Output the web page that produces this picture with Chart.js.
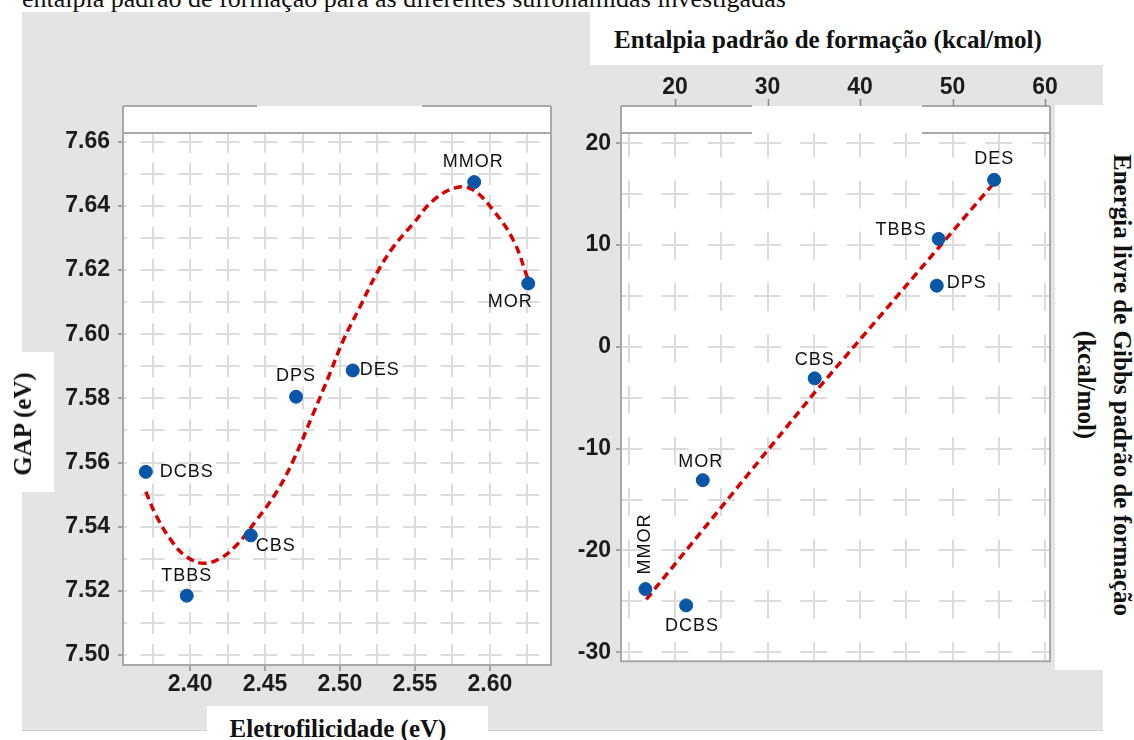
<!DOCTYPE html>
<html>
<head>
<meta charset="utf-8">
<script src="https://cdn.jsdelivr.net/npm/chart.js@4.4.1/dist/chart.umd.min.js"></script>
<style>
  html, body { margin: 0; padding: 0; background: #fff; }
  body { width: 1134px; height: 740px; position: relative; overflow: hidden; }
  .box { position: absolute; }
  .gray { background: #e4e4e4; }
  .white { background: #fff; }
  .serif { font-family: 'Liberation Serif', 'Times New Roman', serif; color: #111; white-space: nowrap; }
  .title { font-weight: bold; font-size: 25px; }
  .rot { position: absolute; transform: translate(-50%, -50%) rotate(90deg); }
  .rotl { position: absolute; transform: translate(-50%, -50%) rotate(-90deg); }
  .center { position: absolute; transform: translate(-50%, -50%); }
  canvas { position: absolute; }
</style>
</head>
<body>
<div class="box gray" style="left:22px;top:12px;width:1081px;height:718px;border-bottom:1px solid #d2d2d2;"></div>
<div class="box white" style="left:590px;top:0;width:544px;height:65px;"></div>
<div class="box white" style="left:1055px;top:105px;width:79px;height:565px;"></div>
<div class="box white" style="left:0;top:352px;width:54px;height:140px;"></div>
<div class="box white" style="left:207px;top:706px;width:281px;height:34px;"></div>

<div class="serif" style="position:absolute;left:22px;top:-14px;font-size:26px;line-height:26px;">entalpia padrão de formação para as diferentes sulfonamidas investigadas</div>

<canvas id="gapChart" width="540" height="616" style="left:24px;top:90px;"></canvas>
<canvas id="gibbsChart" width="500" height="620" style="left:566px;top:60px;"></canvas>

<div class="serif title center" style="left:828px;top:40px;">Entalpia padrão de formação (kcal/mol)</div>
<div class="serif title rot" style="left:1122px;top:385px;">Energia livre de Gibbs padrão de formação</div>
<div class="serif title rot" style="left:1086px;top:385px;">(kcal/mol)</div>
<div class="serif title rotl" style="left:23px;top:424px;">GAP (eV)</div>
<div class="serif title center" style="left:338px;top:729px;">Eletrofilicidade (eV)</div>

<script>
// painel esquerdo: GAP x eletrofilicidade
const gapNames = ['DCBS', 'TBBS', 'CBS', 'DPS', 'DES', 'MMOR', 'MOR'];
const eletrofilicidade = [2.3705, 2.3978, 2.4405, 2.4707, 2.5085, 2.5895, 2.6255];
const gapValues = [7.5571, 7.5185, 7.5373, 7.5805, 7.5887, 7.6474, 7.6158];
// curva ajustada
const gapFitX = [2.3705, 2.3778, 2.3889, 2.3978, 2.4089, 2.4200, 2.4311, 2.4444, 2.4578, 2.4689,
  2.4822, 2.4933, 2.5022, 2.5133, 2.5244, 2.5356, 2.5489, 2.5622, 2.5778, 2.5889, 2.6022, 2.6156, 2.6255];
const gapFitY = [7.5509, 7.5431, 7.5348, 7.5306, 7.5286, 7.5301, 7.5343, 7.5421, 7.5509, 7.5607,
  7.5753, 7.5878, 7.5981, 7.6085, 7.6189, 7.6272, 7.6345, 7.6417, 7.6457, 7.6449, 7.6386, 7.6293, 7.6170];

// painel direito: energia livre de Gibbs x entalpia
const gibbsNames = ['DES', 'TBBS', 'DPS', 'CBS', 'MOR', 'MMOR', 'DCBS'];
const entalpia = [54.5, 48.5, 48.3, 35.1, 23.0, 16.8, 21.2];
const gibbs = [16.4, 10.6, 6.0, -3.1, -13.1, -23.8, -25.4];
const gibbsFitX = [16.9, 35.0, 54.3];
const gibbsFitY = [-24.8, -4.6, 15.9];

// rotulos de eixo
const gapXTicks = [2.40, 2.45, 2.50, 2.55, 2.60];
const gapYTicks = [7.50, 7.52, 7.54, 7.56, 7.58, 7.60, 7.62, 7.64, 7.66];
const gibbsXTicks = [20, 30, 40, 50, 60];
const gibbsYTicks = [-30, -20, -10, 0, 10, 20];

const toXY = (xs, ys) => xs.map((x, i) => ({ x: x, y: ys[i] }));
const inList = (v, list) => list.some(t => Math.abs(t - v) < 1e-6);

const tickFont = { family: "'Liberation Sans', Arial, sans-serif", size: 23, weight: 'bold' };
const tickText = '#1c1c1c';
const gridColor = '#dcdcdc';
const tickMark = '#8c8c8c';
const frameColor = '#a8a8a8';
const dotColor = '#0a56a6';
const fitColor = '#d60000';
const clear = 'rgba(0,0,0,0)';

const framePlugin = {
  id: 'frame',
  beforeDraw(chart, args, o) {
    const { ctx, chartArea: a } = chart;
    ctx.save();
    ctx.fillStyle = '#fff';
    ctx.fillRect(a.left, a.top - o.strip, a.right - a.left, a.bottom - a.top + o.strip);
    ctx.restore();
  },
  afterDraw(chart, args, o) {
    const { ctx, chartArea: a } = chart;
    const top = a.top - o.strip;
    ctx.save();
    ctx.strokeStyle = frameColor;
    ctx.lineWidth = 2;
    ctx.beginPath();
    ctx.moveTo(a.left, top); ctx.lineTo(a.left, a.bottom);
    ctx.lineTo(a.right, a.bottom); ctx.lineTo(a.right, top);
    ctx.moveTo(a.left, top); ctx.lineTo(a.left + o.gap[0], top);
    ctx.moveTo(a.left + o.gap[1], top); ctx.lineTo(a.right, top);
    if (o.innerGap) {
      ctx.moveTo(a.left, a.top); ctx.lineTo(a.left + o.gap[0], a.top);
      ctx.moveTo(a.left + o.gap[1], a.top); ctx.lineTo(a.right, a.top);
    } else {
      ctx.moveTo(a.left, a.top); ctx.lineTo(a.right, a.top);
    }
    ctx.stroke();
    if (o.topTicks) {
      const sx = chart.scales.x;
      ctx.strokeStyle = tickMark;
      ctx.lineWidth = 1.5;
      ctx.beginPath();
      o.topTicks.forEach(v => {
        const px = Math.round(sx.getPixelForValue(v)) + 0.5;
        ctx.moveTo(px, top - 7); ctx.lineTo(px, top);
      });
      ctx.stroke();
    }
    ctx.restore();
  }
};

const labelPlugin = {
  id: 'pointNames',
  afterDatasetsDraw(chart, args, o) {
    const ctx = chart.ctx;
    const meta = chart.getDatasetMeta(0);
    ctx.save();
    ctx.font = "18px 'Liberation Sans', Arial, sans-serif";
    if ('letterSpacing' in ctx) ctx.letterSpacing = '1px';
    ctx.fillStyle = '#101018';
    ctx.textBaseline = 'middle';
    meta.data.forEach((pt, i) => {
      const p = o.place[i];
      ctx.save();
      ctx.translate(pt.x + p[0], pt.y + p[1]);
      if (p[3]) ctx.rotate(p[3] * Math.PI / 180);
      ctx.textAlign = p[2];
      ctx.fillText(o.names[i], 0, 0);
      ctx.restore();
    });
    ctx.restore();
  }
};

function axis(extra) {
  return Object.assign({ type: 'linear' }, extra);
}

new Chart(document.getElementById('gapChart'), {
  type: 'scatter',
  data: {
    datasets: [{
      data: toXY(eletrofilicidade, gapValues),
      backgroundColor: dotColor,
      borderColor: dotColor,
      pointRadius: 6.5,
      order: 0
    }, {
      data: toXY(gapFitX, gapFitY),
      showLine: true,
      borderColor: fitColor,
      borderWidth: 3.5,
      borderDash: [8, 5],
      tension: 0.4,
      pointRadius: 0,
      order: 1
    }]
  },
  options: {
    responsive: false,
    animation: false,
    events: [],
    layout: { padding: { top: 43, right: 13, left: 0, bottom: 0 } },
    scales: {
      x: axis({
        min: 2.3553, max: 2.6407,
        afterFit: s => { s.height = 41; },
        ticks: {
          stepSize: 0.025, includeBounds: false, autoSkip: false, maxRotation: 0, minRotation: 0,
          padding: 0, font: tickFont, color: tickText,
          callback: v => inList(v, gapXTicks) ? v.toFixed(2) : ''
        },
        grid: {
          color: gridColor, lineWidth: 2, tickLength: 6, tickWidth: 1.5, tickBorderDash: [],
          tickColor: c => inList(c.tick.value, gapXTicks) ? tickMark : clear
        },
        border: { display: false, dash: [22, 10.08], dashOffset: 2.3 }
      }),
      y: axis({
        min: 7.4969, max: 7.6627,
        afterFit: s => { s.width = 99; },
        ticks: {
          stepSize: 0.01, includeBounds: false, autoSkip: false,
          padding: 8, font: tickFont, color: tickText,
          callback: v => inList(v, gapYTicks) ? v.toFixed(2) : ''
        },
        grid: {
          color: gridColor, lineWidth: 2, tickLength: 5, tickWidth: 1.5, tickBorderDash: [],
          tickColor: c => inList(c.tick.value, gapYTicks) ? tickMark : clear
        },
        border: { display: false, dash: [24, 13.5], dashOffset: 19.9 }
      })
    },
    plugins: {
      legend: { display: false },
      tooltip: { enabled: false },
      frame: { strip: 27, gap: [134, 299], innerGap: false },
      pointNames: {
        names: gapNames,
        place: [[14, 0, 'left'], [0, -20, 'center'], [5, 11, 'left'], [0, -21, 'center'],
                [7, 0, 'left'], [-1, -20, 'center'], [-18, 19, 'center']]
      }
    }
  },
  plugins: [framePlugin, labelPlugin]
});

new Chart(document.getElementById('gibbsChart'), {
  type: 'scatter',
  data: {
    datasets: [{
      data: toXY(entalpia, gibbs),
      backgroundColor: dotColor,
      borderColor: dotColor,
      pointRadius: 6.5,
      order: 0
    }, {
      data: toXY(gibbsFitX, gibbsFitY),
      showLine: true,
      borderColor: fitColor,
      borderWidth: 3.5,
      borderDash: [8, 5],
      tension: 0,
      pointRadius: 0,
      order: 1
    }]
  },
  options: {
    responsive: false,
    animation: false,
    events: [],
    layout: { padding: { top: 0, right: 16, left: 0, bottom: 15 } },
    scales: {
      x: axis({
        position: 'top',
        min: 14.16, max: 60.54,
        afterFit: s => { s.height = 73; },
        ticks: {
          stepSize: 5, includeBounds: false, autoSkip: false, maxRotation: 0, minRotation: 0,
          padding: 0, font: tickFont, color: tickText,
          callback: v => inList(v, gibbsXTicks) ? String(v) : ''
        },
        grid: { color: gridColor, lineWidth: 2, drawTicks: true, tickLength: 32, tickColor: clear, tickBorderDash: [] },
        border: { display: false, dash: [28, 23.27], dashOffset: 3.7 }
      }),
      y: axis({
        min: -30.88, max: 21.0,
        afterFit: s => { s.width = 55; },
        ticks: {
          stepSize: 5, includeBounds: false, autoSkip: false,
          padding: 5, font: tickFont, color: tickText,
          callback: v => inList(v, gibbsYTicks) ? String(v) : ''
        },
        grid: {
          color: gridColor, lineWidth: 2, tickLength: 5, tickWidth: 1.5, tickBorderDash: [],
          tickColor: c => inList(c.tick.value, gibbsYTicks) ? tickMark : clear
        },
        border: { display: false, dash: [27, 19.25], dashOffset: 5.7 }
      })
    },
    plugins: {
      legend: { display: false },
      tooltip: { enabled: false },
      frame: { strip: 27, gap: [131, 301], innerGap: true, topTicks: gibbsXTicks },
      pointNames: {
        names: gibbsNames,
        place: [[0, -21, 'center'], [-12, -9, 'right'], [10, -3, 'left'], [0, -18, 'center'],
                [-2, -18, 'center'], [0, -45, 'center', -90], [6, 21, 'center']]
      }
    }
  },
  plugins: [framePlugin, labelPlugin]
});
</script>
</body>
</html>
